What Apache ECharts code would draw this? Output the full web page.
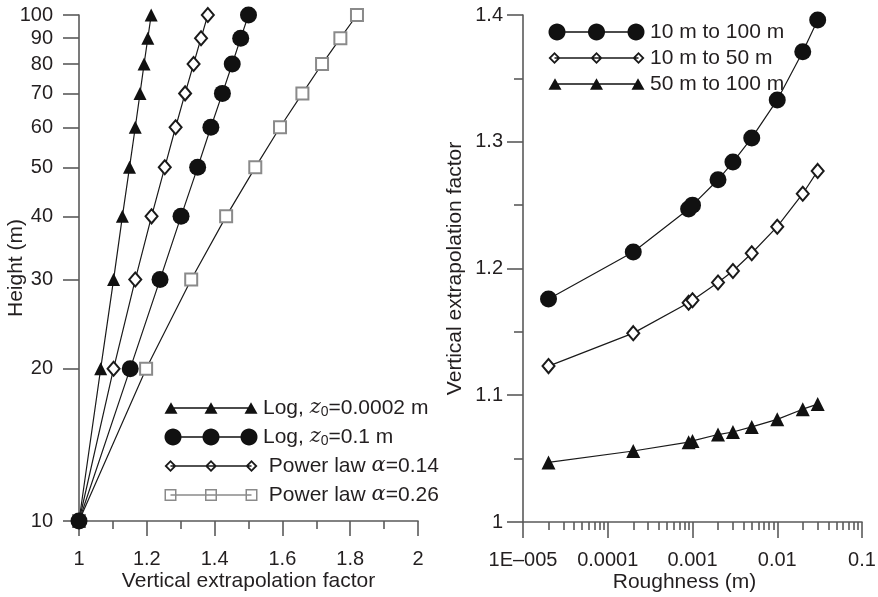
<!DOCTYPE html>
<html><head><meta charset="utf-8">
<script src="https://cdn.jsdelivr.net/npm/echarts@6/dist/echarts.min.js"></script>
<style>html,body{margin:0;padding:0;background:#fff}#c{width:878px;height:597px}</style>
</head><body><div id="c"></div>
<script>
// ---- Left panel data ----
const heights = [10, 20, 30, 40, 50, 60, 70, 80, 90, 100];
const logZ0002 = [1, 1.064, 1.102, 1.128, 1.149, 1.166, 1.180, 1.192, 1.203, 1.213];
const logZ01   = [1, 1.151, 1.239, 1.301, 1.350, 1.389, 1.423, 1.452, 1.477, 1.500];
const pow014   = [1, 1.102, 1.166, 1.214, 1.253, 1.285, 1.313, 1.338, 1.360, 1.380];
const pow026   = [1, 1.198, 1.331, 1.434, 1.520, 1.593, 1.659, 1.717, 1.771, 1.820];
const heightTicks = [10, 20, 30, 40, 50, 60, 70, 80, 90, 100];
const factorTicks = ['1', '1.2', '1.4', '1.6', '1.8', '2'];

// ---- Right panel data ----
const roughness = [0.00002, 0.0002, 0.0009, 0.001, 0.002, 0.003, 0.005, 0.01, 0.02, 0.03];
const f10to100 = [1.176, 1.213, 1.247, 1.250, 1.270, 1.284, 1.303, 1.333, 1.371, 1.396];
const f10to50  = [1.123, 1.149, 1.173, 1.175, 1.189, 1.198, 1.212, 1.233, 1.259, 1.277];
const f50to100 = [1.047, 1.056, 1.063, 1.064, 1.069, 1.071, 1.075, 1.081, 1.089, 1.093];
const roughTicks = ['1E\u2013005', '0.0001', '0.001', '0.01', '0.1'];
const factorTicksR = ['1', '1.1', '1.2', '1.3', '1.4'];

const leftNames = ['Log, z0=0.0002 m', 'Log, z0=0.1 m', 'Power law a=0.14', 'Power law a=0.26'];
const rightNames = ['10 m to 100 m', '10 m to 50 m', '50 m to 100 m'];
const leftLabels = {
  'Log, z0=0.0002 m': '{t|Log, }{i|z}{s|0}{t|=0.0002 m}',
  'Log, z0=0.1 m': '{t|Log, }{i|z}{s|0}{t|=0.1 m}',
  'Power law a=0.14': '{t| Power law }{g|\u03b1}{t|=0.14}',
  'Power law a=0.26': '{t| Power law }{g|\u03b1}{t|=0.26}'
};

// minor tick positions for log roughness axis (2..9 x each decade)
const roughMinor = [];
[1e-5, 1e-4, 1e-3, 1e-2].forEach(d => { for (let k = 2; k <= 9; k++) roughMinor.push(+(d * k).toPrecision(3)); });

// ---- legend icon paths (style only) ----
function poly(pts) { return 'M' + pts.map(p => p[0].toFixed(2) + ' ' + p[1].toFixed(2)).join('L') + 'Z'; }
function iconPath(shape, W, H, s) {
  const cy = H / 2;
  const xs = [s / 2 + 0.5, W / 2, W - s / 2 - 0.5];
  let d = 'M0 0L0 0ZM' + W + ' ' + H + 'L' + W + ' ' + H + 'Z';
  d += poly([[xs[0], cy - 0.7], [xs[2], cy - 0.7], [xs[2], cy + 0.7], [xs[0], cy + 0.7]]);
  xs.forEach(cx => {
    const r = s / 2;
    if (shape === 'triangle') {
      d += poly([[cx - r, cy + r * 0.9], [cx, cy - r * 0.9], [cx + r, cy + r * 0.9]]);
    } else if (shape === 'circle') {
      const pts = [];
      for (let i = 0; i < 32; i++) { const a = i / 32 * Math.PI * 2; pts.push([cx + r * Math.cos(a), cy + r * Math.sin(a)]); }
      d += poly(pts);
    } else if (shape === 'diamond') {
      const t = 2.6;
      d += poly([[cx, cy - r], [cx + r, cy], [cx, cy + r], [cx - r, cy]]);
      d += poly([[cx, cy - r + t], [cx - r + t, cy], [cx, cy + r - t], [cx + r - t, cy]]);
    } else if (shape === 'square') {
      const t = 1.5, a = r - t;
      d += poly([[cx - r, cy - r], [cx + r, cy - r], [cx + r, cy + r], [cx - r, cy + r]]);
      d += poly([[cx - a, cy - a], [cx - a, cy + a], [cx + a, cy + a], [cx + a, cy - a]]);
    }
  });
  return 'path://' + d;
}

const AX = '#5a5a5a', TX = '#231f20', FONT = 'Liberation Sans, Arial, sans-serif';
const lineStyle = { color: '#1a1a1a', width: 1.2 };

function mk(name, xs, ys, xi, yi, symbol, size, color, extra) {
  return Object.assign({
    name: name, type: 'line', xAxisIndex: xi, yAxisIndex: yi,
    data: xs.map((x, i) => [x, ys[i]]),
    symbol: symbol, symbolSize: size, showAllSymbol: true,
    itemStyle: { color: color },
    lineStyle: lineStyle, animation: false, z: 3
  }, extra || {});
}

const seriesArr = [
  mk(leftNames[3], pow026, heights, 0, 0, 'emptyRect', 12, '#8a8a8a', { itemStyle: { color: '#8a8a8a', borderWidth: 1.5 }, z: 2 }),
  mk(leftNames[2], pow014, heights, 0, 0, 'emptyDiamond', [12, 14], '#1a1a1a', { itemStyle: { color: '#1a1a1a', borderWidth: 2.2 } }),
  mk(leftNames[0], logZ0002, heights, 0, 0, 'triangle', 13, '#111'),
  mk(leftNames[1], logZ01, heights, 0, 0, 'circle', 17, '#111', { z: 4 }),
  mk(rightNames[0], roughness, f10to100, 1, 1, 'circle', 17, '#111'),
  mk(rightNames[1], roughness, f10to50, 1, 1, 'emptyDiamond', [12, 14], '#1a1a1a', { itemStyle: { color: '#1a1a1a', borderWidth: 2.2 } }),
  mk(rightNames[2], roughness, f50to100, 1, 1, 'triangle', 14, '#111')
];

const richT = {
  t: { fontSize: 21, fontFamily: FONT, color: TX, lineHeight: 22 },
  i: { fontSize: 21, fontFamily: 'DejaVu Serif, serif', fontStyle: 'italic', color: TX, lineHeight: 22 },
  g: { fontSize: 21, fontFamily: 'DejaVu Serif, serif', fontStyle: 'italic', color: TX, lineHeight: 22 },
  s: { fontSize: 14, fontFamily: FONT, color: TX, lineHeight: 14, verticalAlign: 'bottom' }
};

const nameStyle = { fontSize: 21, fontFamily: FONT, color: TX };

const option = {
  backgroundColor: '#fff',
  animation: false,
  grid: [
    { left: 79, top: 15, width: 339, height: 506, outerBoundsMode: 'none', containLabel: false },
    { left: 523, top: 15, width: 339, height: 507, outerBoundsMode: 'none', containLabel: false }
  ],
  legend: [
    {
      orient: 'vertical', left: 159, top: 392, itemWidth: 94, itemHeight: 22, itemGap: 7,
      symbolKeepAspect: true, itemStyle: { borderWidth: 0 },
      data: [
        { name: leftNames[0], icon: iconPath('triangle', 94, 22, 13) },
        { name: leftNames[1], icon: iconPath('circle', 94, 22, 17) },
        { name: leftNames[2], icon: iconPath('diamond', 94, 22, 12) },
        { name: leftNames[3], icon: iconPath('square', 94, 22, 12) }
      ],
      formatter: n => leftLabels[n],
      textStyle: { rich: richT, fontSize: 21, color: TX }
    },
    {
      orient: 'vertical', left: 543, top: 16, itemWidth: 97, itemHeight: 22, itemGap: 4,
      symbolKeepAspect: true, itemStyle: { borderWidth: 0 },
      data: [
        { name: rightNames[0], icon: iconPath('circle', 97, 22, 17) },
        { name: rightNames[1], icon: iconPath('diamond', 97, 22, 12) },
        { name: rightNames[2], icon: iconPath('triangle', 97, 22, 13) }
      ],
      textStyle: { fontSize: 21, fontFamily: FONT, color: TX }
    }
  ],
  xAxis: [
    {
      gridIndex: 0, type: 'value', min: 1, max: 2, interval: 0.2,
      axisLine: { lineStyle: { color: AX, width: 1.6 } },
      axisTick: { length: 15, lineStyle: { color: AX, width: 1.6 } },
      minorTick: { show: true, splitNumber: 2, length: 8, lineStyle: { color: AX, width: 1.6 } },
      splitLine: { show: false }, minorSplitLine: { show: false },
      axisLabel: { margin: 28, fontSize: 20, fontFamily: FONT, color: TX, formatter: v => factorTicks[Math.round((v - 1) / 0.2)] },
      name: 'Vertical extrapolation factor', nameLocation: 'middle', nameGap: 50, nameMoveOverlap: false,
      nameTextStyle: nameStyle
    },
    {
      gridIndex: 1, type: 'log', logBase: 10, min: 1e-5, max: 0.1, position: 'bottom',
      axisLine: { lineStyle: { color: AX, width: 1.6 } },
      axisTick: { length: 16, lineStyle: { color: AX, width: 1.6 } },
      splitLine: { show: false },
      axisLabel: { margin: 28, fontSize: 20, fontFamily: FONT, color: TX, formatter: v => roughTicks[Math.round(Math.log10(v)) + 5] },
      name: 'Roughness (m)', nameLocation: 'middle', nameGap: 50, nameMoveOverlap: false,
      nameTextStyle: Object.assign({ padding: [0, 16, 0, 0] }, nameStyle)
    },
    {
      gridIndex: 1, type: 'log', logBase: 10, min: 1e-5, max: 0.1, position: 'bottom', offset: 0,
      axisLine: { show: false },
      axisTick: { length: 8, customValues: roughMinor, lineStyle: { color: AX, width: 1.6 } },
      axisLabel: { show: false },
      splitLine: { show: false }
    }
  ],
  yAxis: [
    {
      gridIndex: 0, type: 'log', logBase: 10, min: 10, max: 100,
      axisLine: { show: true, lineStyle: { color: AX, width: 1.6 } },
      axisTick: { show: true, length: 16, customValues: heightTicks, lineStyle: { color: AX, width: 1.6 } },
      splitLine: { show: false },
      axisLabel: { margin: 26, fontSize: 20, fontFamily: FONT, color: TX, customValues: heightTicks, formatter: v => String(Math.round(v)) },
      name: 'Height (m)', nameLocation: 'middle', nameGap: 52, nameMoveOverlap: false,
      nameTextStyle: nameStyle
    },
    {
      gridIndex: 1, type: 'value', min: 1, max: 1.4, interval: 0.1,
      axisLine: { show: true, lineStyle: { color: AX, width: 1.6 } },
      axisTick: { show: true, length: 16, lineStyle: { color: AX, width: 1.6 } },
      minorTick: { show: true, splitNumber: 2, length: 9, lineStyle: { color: AX, width: 1.6 } },
      splitLine: { show: false }, minorSplitLine: { show: false },
      axisLabel: { margin: 20, fontSize: 20, fontFamily: FONT, color: TX, formatter: v => factorTicksR[Math.round((v - 1) / 0.1)] },
      name: 'Vertical extrapolation factor', nameLocation: 'middle', nameGap: 57, nameMoveOverlap: false,
      nameTextStyle: nameStyle
    }
  ],
  series: seriesArr
};

const chart = echarts.init(document.getElementById('c'), null, { renderer: 'canvas' });
chart.setOption(option);
</script>
</body></html>
